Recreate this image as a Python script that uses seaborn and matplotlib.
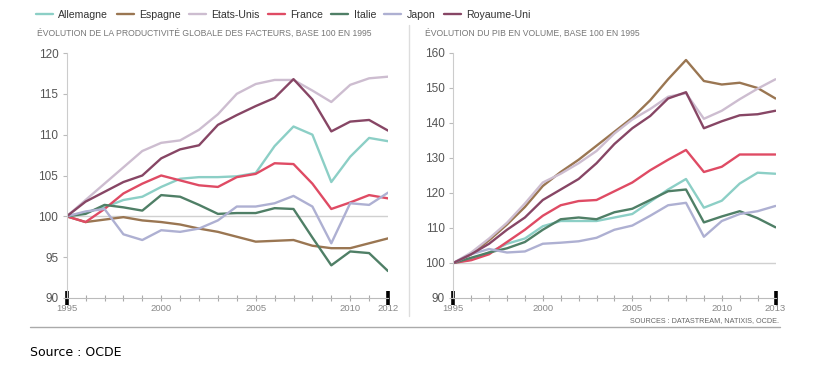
import pandas as pd
import numpy as np
import matplotlib.pyplot as plt
from matplotlib.lines import Line2D
import seaborn as sns

COUNTRIES = ["Allemagne", "Espagne", "Etats-Unis", "France", "Italie", "Japon", "Royaume-Uni"]
COLORS = ["#8ccfc6", "#9a7652", "#cdbdd0", "#df4b64", "#4f7f66", "#aeb0d2", "#874665"]

# productivité globale des facteurs, base 100 en 1995
YEARS_L = list(range(1995, 2013))
ALL_L = [100, 100.5, 101.1, 102.0, 102.4, 103.6, 104.6, 104.8, 104.8, 104.9, 105.3, 108.6, 111.0, 110.0, 104.2, 107.3, 109.6, 109.2]
ESP_L = [100, 99.3, 99.6, 99.9, 99.5, 99.3, 99.0, 98.5, 98.1, 97.5, 96.9, 97.0, 97.1, 96.4, 96.1, 96.1, 96.7, 97.3]
USA_L = [100, 102.0, 104.0, 106.0, 108.0, 109.0, 109.3, 110.6, 112.5, 115.0, 116.2, 116.7, 116.7, 115.4, 114.0, 116.1, 116.9, 117.1]
FRA_L = [100, 99.3, 100.9, 102.8, 104.0, 105.0, 104.4, 103.8, 103.6, 104.8, 105.2, 106.5, 106.4, 104.0, 100.9, 101.7, 102.6, 102.2]
ITA_L = [100, 100.3, 101.4, 101.1, 100.7, 102.6, 102.4, 101.4, 100.3, 100.4, 100.4, 101.0, 100.9, 97.4, 94.0, 95.7, 95.5, 93.3]
JPN_L = [100, 100.6, 100.9, 97.8, 97.1, 98.3, 98.1, 98.5, 99.5, 101.2, 101.2, 101.6, 102.5, 101.2, 96.7, 101.6, 101.4, 102.9]
GBR_L = [100, 101.8, 103.0, 104.2, 105.0, 107.1, 108.2, 108.7, 111.2, 112.4, 113.5, 114.5, 116.8, 114.3, 110.4, 111.6, 111.8, 110.5]

# PIB en volume, base 100 en 1995
YEARS_R = list(range(1995, 2014))
ALL_R = [100, 101.0, 103.0, 105.5, 107.0, 110.5, 112.0, 112.0, 112.0, 113.0, 114.0, 117.5, 121.0, 124.0, 115.8, 117.8, 122.7, 125.8, 125.5]
ESP_R = [100, 102.5, 106.5, 111.0, 116.0, 122.0, 126.0, 129.5, 133.5, 137.5, 141.5, 146.5, 152.5, 158.0, 152.0, 151.0, 151.5, 150.0, 147.0]
USA_R = [100, 103.0, 107.0, 111.5, 117.0, 123.0, 125.5, 128.5, 132.0, 137.0, 141.0, 144.0, 147.5, 148.5, 141.2, 143.5, 146.8, 149.8, 152.5]
FRA_R = [100, 100.8, 102.5, 106.0, 109.5, 113.5, 116.5, 117.7, 118.0, 120.5, 123.0, 126.5, 129.5, 132.3, 126.0, 127.5, 131.0, 131.0, 131.0]
ITA_R = [100, 101.5, 103.0, 104.2, 106.0, 109.5, 112.5, 113.0, 112.5, 114.5, 115.5, 118.0, 120.5, 121.0, 111.6, 113.3, 114.8, 112.8, 110.2]
JPN_R = [100, 102.5, 104.0, 103.0, 103.3, 105.5, 105.8, 106.2, 107.2, 109.5, 110.7, 113.5, 116.5, 117.2, 107.5, 112.0, 114.0, 114.8, 116.3]
GBR_R = [100, 102.5, 105.5, 109.5, 113.0, 118.0, 121.0, 124.0, 128.5, 134.0, 138.5, 142.0, 147.0, 148.8, 138.5, 140.5, 142.2, 142.5, 143.5]

LABELS_L = [1995, 2000, 2005, 2010, 2012]
LABELS_R = [1995, 2000, 2005, 2010, 2013]


def long_form(years, series):
    rows = []
    for name, values in zip(COUNTRIES, series):
        for y, v in zip(years, values):
            rows.append({"annee": y, "valeur": v, "pays": name})
    return pd.DataFrame(rows)


df_l = long_form(YEARS_L, [ALL_L, ESP_L, USA_L, FRA_L, ITA_L, JPN_L, GBR_L])
df_r = long_form(YEARS_R, [ALL_R, ESP_R, USA_R, FRA_R, ITA_R, JPN_R, GBR_R])

sns.set_style("white")
plt.rcParams["font.family"] = ["Liberation Sans", "DejaVu Sans"]

fig = plt.figure(figsize=(8.4, 3.7), dpi=100)
ax_l = fig.add_axes([66.7 / 840, 1 - 298 / 370, (388 - 66.7) / 840, 245 / 370])
ax_r = fig.add_axes([453.3 / 840, 1 - 298 / 370, (775.5 - 453.3) / 840, 245 / 370])


def style_axis(ax, df, years, labels, ylim, yticks):
    ax.axhline(100, color="#d0d0d0", lw=1, zorder=1)
    sns.lineplot(data=df, x="annee", y="valeur", hue="pays", hue_order=COUNTRIES,
                 palette=COLORS, lw=1.7, ax=ax, legend=(ax is ax_l))
    ax.set_xlim(years[0], years[-1])
    ax.set_ylim(*ylim)
    ax.set_xlabel("")
    ax.set_ylabel("")
    ax.set_yticks(yticks)
    ax.set_xticks(years)
    ax.set_xticklabels([str(y) if y in labels else "" for y in years])
    for s in ["top", "right"]:
        ax.spines[s].set_visible(False)
    ax.spines["left"].set_color("#cccccc")
    ax.spines["bottom"].set_color("#bbbbbb")
    ax.spines["left"].set_linewidth(0.8)
    ax.spines["bottom"].set_linewidth(0.8)
    ax.tick_params(axis="y", direction="out", length=3, width=0.8, color="#bbbbbb",
                   labelsize=8.5, labelcolor="#555555", pad=3, left=True)
    ax.tick_params(axis="x", direction="inout", length=5, width=0.8, color="#aaaaaa",
                   labelsize=6.8, labelcolor="#888888", pad=2, bottom=True)
    ticks = ax.xaxis.get_major_ticks()
    for t in (ticks[0], ticks[-1]):
        t.tick1line.set_markersize(10)
        t.tick1line.set_markeredgewidth(2.6)
        t.tick1line.set_markeredgecolor("black")
        t.tick1line.set_zorder(5)


style_axis(ax_l, df_l, YEARS_L, LABELS_L, (90, 120), [90, 95, 100, 105, 110, 115, 120])
style_axis(ax_r, df_r, YEARS_R, LABELS_R, (90, 160), [90, 100, 110, 120, 130, 140, 150, 160])

handles, labels = ax_l.get_legend_handles_labels()
ax_l.get_legend().remove()
fig.legend(handles, labels, loc="center left", bbox_to_anchor=(31 / 840, 1 - 15 / 370),
           ncol=7, frameon=False, fontsize=7.6, handlelength=1.6, handletextpad=0.5,
           columnspacing=0.8, borderpad=0, labelcolor="#333333")

fig.text(37 / 840, 1 - 33 / 370, "ÉVOLUTION DE LA PRODUCTIVITÉ GLOBALE DES FACTEURS, BASE 100 EN 1995",
         fontsize=6.2, color="#777777", va="center")
fig.text(425 / 840, 1 - 33 / 370, "ÉVOLUTION DU PIB EN VOLUME, BASE 100 EN 1995",
         fontsize=6.2, color="#777777", va="center")
fig.text(779 / 840, 1 - 321 / 370, "SOURCES : DATASTREAM, NATIXIS, OCDE.",
         fontsize=5.2, color="#666666", ha="right", va="center")

fig.add_artist(Line2D([409 / 840, 409 / 840], [1 - 25 / 370, 1 - 316 / 370], color="#dddddd", lw=1))
fig.add_artist(Line2D([30 / 840, 780 / 840], [1 - 327 / 370, 1 - 327 / 370], color="#aaaaaa", lw=1))
fig.text(30 / 840, 1 - 353 / 370, "Source : OCDE", fontsize=9, color="black",
         va="center", family="DejaVu Sans")

fig.savefig("out.png", dpi=100)
